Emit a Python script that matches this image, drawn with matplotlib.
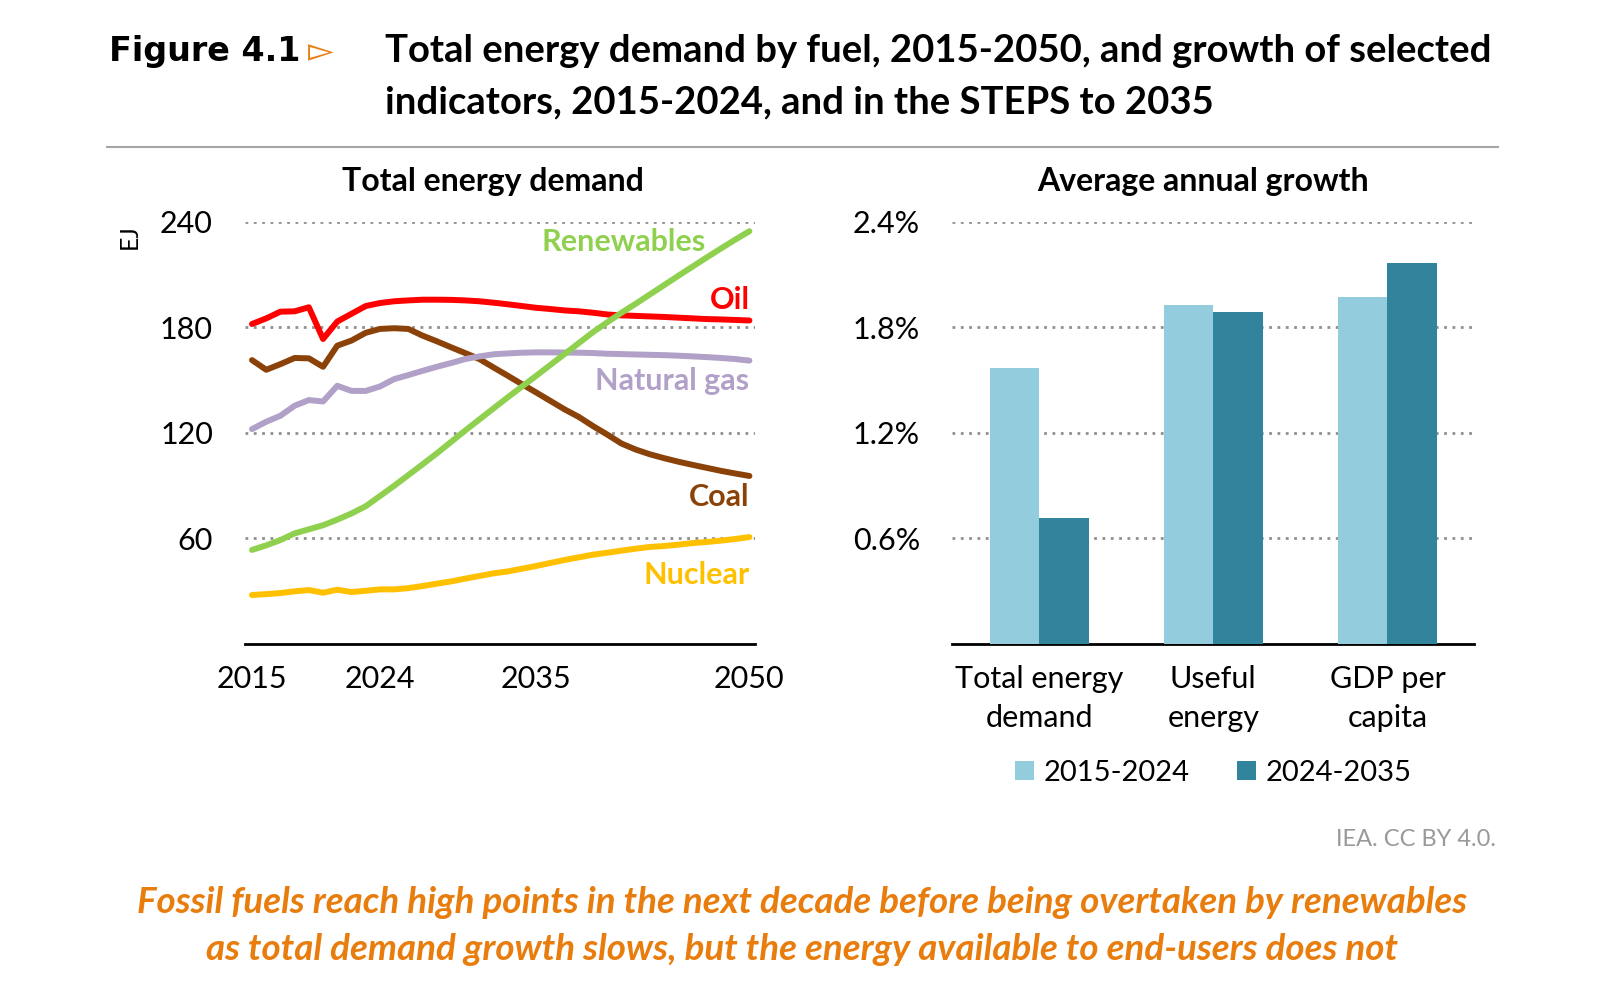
import numpy as np
import matplotlib
matplotlib.use('Agg')
import matplotlib.pyplot as plt

plt.rcParams['font.family'] = ['Lato', 'DejaVu Sans']

# Total energy demand by fuel, EJ
years = np.arange(2015, 2051)
oil = [181.8, 185.0, 188.8, 189.0, 191.3, 173.3, 183.2, 187.6, 192.0, 193.7,
       194.7, 195.2, 195.6, 195.6, 195.5, 195.2, 194.7, 193.9, 193.0, 192.0,
       191.0, 190.3, 189.5, 189.0, 188.2, 187.2, 186.7, 186.4, 186.1, 185.8,
       185.4, 185.0, 184.6, 184.4, 184.1, 183.8]
coal = [161.3, 155.8, 159.0, 162.5, 162.3, 157.5, 169.5, 172.4, 176.8, 179.0,
        179.4, 179.0, 175.2, 172.0, 168.6, 165.3, 161.9, 157.1, 152.4, 147.6,
        142.9, 138.1, 133.3, 129.0, 123.8, 119.0, 113.9, 110.5, 107.8, 105.6,
        103.6, 101.8, 100.1, 98.4, 96.9, 95.5]
gas = [122.1, 126.3, 129.7, 135.4, 138.6, 137.8, 146.7, 143.8, 143.8, 146.3,
       150.5, 152.8, 155.2, 157.5, 159.6, 161.9, 163.4, 164.6, 165.1, 165.5,
       165.7, 165.7, 165.6, 165.5, 165.3, 164.9, 164.7, 164.5, 164.3, 164.1,
       163.8, 163.4, 163.0, 162.5, 161.9, 161.0]
renewables = [53.5, 56.1, 59.1, 62.9, 65.2, 67.5, 70.7, 74.2, 78.3, 84.1,
              89.9, 96.0, 102.1, 108.3, 114.8, 121.3, 127.6, 133.9, 140.2, 146.3,
              152.4, 158.6, 164.8, 171.0, 177.2, 182.8, 188.2, 193.3, 198.6, 203.9,
              209.2, 214.4, 219.6, 224.7, 229.7, 234.5]
nuclear = [27.9, 28.4, 29.0, 30.0, 30.7, 29.2, 30.9, 29.6, 30.3, 31.1,
           31.1, 31.8, 33.0, 34.3, 35.6, 37.2, 38.7, 40.2, 41.3, 42.8,
           44.4, 46.1, 47.8, 49.3, 50.8, 51.9, 53.1, 54.2, 55.2, 55.7,
           56.5, 57.4, 58.0, 58.8, 59.7, 60.8]

# Average annual growth (%)
indicators = ['Total energy\ndemand', 'Useful\nenergy', 'GDP per\ncapita']
growth_2015_2024 = [1.566, 1.927, 1.973]
growth_2024_2035 = [0.714, 1.884, 2.163]
periods = ['2015-2024', '2024-2035']

ORANGE = '#E87D0D'
GRID = dict(color='#8f8f8f', linestyle=(0, (1, 2)), linewidth=2.0)

# layout measured on a 1568 x 961 frame
W, H = 1568.0, 961.0


def fx(px):
    return px / W


def fy(py):
    return 1 - py / H


fig = plt.figure(figsize=(16, 9.81), dpi=100)
fig.patch.set_facecolor('white')

# header
fig.text(fx(107), fy(50), 'Figure 4.1', fontsize=24, fontweight='heavy',
         va='center', ha='left', family=['DejaVu Sans'])
fig.text(fx(302), fy(51), '\u25BB', fontsize=24, color=ORANGE,
         va='center', ha='left', family=['DejaVu Sans'])
fig.text(fx(377), fy(50),
         'Total energy demand by fuel, 2015-2050, and growth of selected',
         fontsize=27.5, fontweight='bold', va='center', ha='left')
fig.text(fx(377), fy(100),
         'indicators, 2015-2024, and in the STEPS to 2035',
         fontsize=27.5, fontweight='bold', va='center', ha='left')
fig.add_artist(plt.Line2D([fx(105), fx(1468)], [fy(144)] * 2,
                          color='#a6a6a6', linewidth=1.5))

bottom = fy(631)
top = fy(217)

# left panel: lines
ax1 = fig.add_axes([fx(240), bottom, fx(740) - fx(240), top - bottom])
series = [
    ('Oil', oil, '#FF0000', 195.4, 2050),
    ('Coal', coal, '#8B4209', 83.5, 2050),
    ('Natural gas', gas, '#B1A0C7', 149.6, 2050),
    ('Renewables', renewables, '#8FD14F', 228.4, 2046.9),
    ('Nuclear', nuclear, '#FFC000', 39.4, 2050),
]
for label, vals, color, ly, lx in series:
    ax1.plot(years, vals, color=color, linewidth=4.3, solid_capstyle='round',
             solid_joinstyle='round', zorder=3)
    ax1.text(lx, ly, label, color=color, fontsize=22, fontweight='bold',
             ha='right', va='center')

ax1.set_xlim(2014.5, 2050.4)
ax1.set_ylim(0, 240)
ax1.set_yticks([60, 120, 180, 240])
ax1.set_xticks([2015, 2024, 2035, 2050])
ax1.grid(axis='y', **GRID)
fig.text(fx(127), fy(232), 'EJ', fontsize=18, rotation=90,
         ha='center', va='center')
fig.text(fx(483), fy(178), 'Total energy demand', fontsize=23,
         fontweight='bold', ha='center', va='center')

# right panel: bars
ax2 = fig.add_axes([fx(933), bottom, fx(1445) - fx(933), top - bottom])
x = np.arange(len(indicators))
w = 0.284
ax2.bar(x - w / 2, growth_2015_2024, width=w, color='#93CDDD', label=periods[0],
        zorder=3)
ax2.bar(x + w / 2, growth_2024_2035, width=w, color='#31849B', label=periods[1],
        zorder=3)
ax2.set_xlim(-0.5, 2.5)
ax2.set_ylim(0, 2.4)
ax2.set_yticks([0.6, 1.2, 1.8, 2.4])
ax2.set_yticklabels(['0.6%', '1.2%', '1.8%', '2.4%'])
ax2.set_xticks(x)
ax2.set_xticklabels(indicators, linespacing=1.5, fontsize=22.5)
ax2.grid(axis='y', **GRID)
fig.text(fx(1179), fy(178), 'Average annual growth', fontsize=23,
         fontweight='bold', ha='center', va='center')
ax2.legend(loc='center', bbox_to_anchor=(0.5, -(757 - 631) / 414), ncol=2,
           frameon=False, fontsize=21, handlelength=0.65, handleheight=0.65,
           handletextpad=0.35, columnspacing=1.6, borderpad=0)

for ax in (ax1, ax2):
    for s in ('top', 'right', 'left'):
        ax.spines[s].set_visible(False)
    ax.spines['bottom'].set_linewidth(2.0)
    ax.set_axisbelow(True)
    ax.tick_params(length=0, labelsize=22)
    ax.tick_params(axis='y', pad=23)
    ax.tick_params(axis='x', pad=15)

fig.text(fx(1466), fy(822), 'IEA. CC BY 4.0.', fontsize=17,
         color='#999999', ha='right', va='center')
fig.text(fx(786), fy(884),
         'Fossil fuels reach high points in the next decade before being overtaken by renewables',
         fontsize=26.5, fontweight='bold', fontstyle='italic', color=ORANGE,
         ha='center', va='center')
fig.text(fx(786), fy(930),
         'as total demand growth slows, but the energy available to end-users does not',
         fontsize=26.5, fontweight='bold', fontstyle='italic', color=ORANGE,
         ha='center', va='center')

fig.savefig('out.png', dpi=100, facecolor='white')
